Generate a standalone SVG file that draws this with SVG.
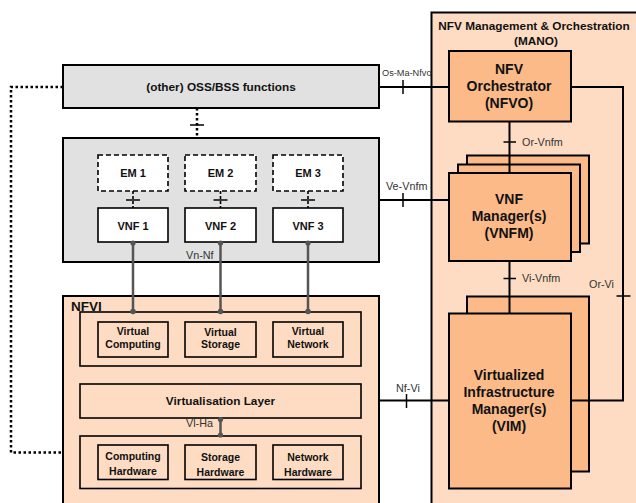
<svg xmlns="http://www.w3.org/2000/svg" width="636" height="503" viewBox="0 0 636 503">
<defs>
<style>
.bg{fill:#ffffff}
.gray{fill:#e1e1e1;stroke:#000;stroke-width:2}
.peach{fill:#fddcc3;stroke:#000;stroke-width:2}
.peach1{fill:#fddcc3;stroke:#000;stroke-width:1.6}
.orange{fill:#fbba88;stroke:#000;stroke-width:2}
.white{fill:#ffffff;stroke:#000;stroke-width:1.6}
.dashbox{fill:#ffffff;stroke:#000;stroke-width:1.6;stroke-dasharray:5 3}
.t{font-family:"Liberation Sans",Arial,sans-serif;font-weight:bold;fill:#111;text-anchor:middle}
.s11{font-size:11px}
.s105{font-size:10.5px}
.s12{font-size:11.8px}
.s14{font-size:14px}
.lbl{font-family:"Liberation Sans",Arial,sans-serif;font-size:10.8px;fill:#333}
.line{fill:none;stroke:#000;stroke-width:2}
.tick{fill:none;stroke:#000;stroke-width:1.5}
.dot{fill:none;stroke:#000;stroke-width:2.5;stroke-dasharray:2.5 2.5}
.dash{fill:none;stroke:#000;stroke-width:1.6;stroke-dasharray:3 2}
.gl{fill:none;stroke:#555;stroke-width:2.5}
.gd{fill:#555}
</style>
</defs>
<rect class="bg" x="0" y="0" width="636" height="503"/>

<g id="mano">
<rect class="peach" x="431.5" y="12.5" width="210" height="500"/>
<text class="t s12" x="534" y="29.5">NFV Management &amp; Orchestration</text>
<text class="t s12" x="536" y="45">(MANO)</text>
</g>

<g id="oss">
<rect class="gray" x="63" y="65" width="316" height="43"/>
<text class="t s12" x="221" y="91">(other) OSS/BSS functions</text>
</g>

<g id="vnf-domain">
<rect class="gray" x="63" y="138" width="316" height="124"/>
</g>

<g id="em1"><rect class="dashbox" x="98" y="155" width="70" height="36"/><text class="t s11" x="133" y="177">EM 1</text></g>
<g id="em2"><rect class="dashbox" x="185" y="155" width="71" height="36"/><text class="t s11" x="220.5" y="177">EM 2</text></g>
<g id="em3"><rect class="dashbox" x="273" y="155" width="70" height="36"/><text class="t s11" x="308" y="177">EM 3</text></g>

<g id="vnf1"><rect class="white" x="98" y="208" width="70" height="34"/><text class="t s11" x="133" y="230">VNF 1</text></g>
<g id="vnf2"><rect class="white" x="185" y="208" width="71" height="34"/><text class="t s11" x="220.5" y="230">VNF 2</text></g>
<g id="vnf3"><rect class="white" x="273" y="208" width="70" height="34"/><text class="t s11" x="308" y="230">VNF 3</text></g>

<g id="nfvi">
<rect class="peach" x="63" y="296" width="316" height="220"/>
<text class="t" x="71" y="311" style="font-size:13.5px;text-anchor:start">NFVI</text>
</g>

<g id="virtual-resources">
<rect class="peach1" x="80" y="312" width="281" height="54"/>
</g>
<g id="virtual-computing"><rect class="peach1" x="98" y="322" width="70" height="35"/><text class="t s105" x="133" y="335">Virtual</text><text class="t s105" x="133" y="347.5">Computing</text></g>
<g id="virtual-storage"><rect class="peach1" x="185" y="322" width="71" height="35"/><text class="t s105" x="220.5" y="335.5">Virtual</text><text class="t s105" x="220.5" y="348">Storage</text></g>
<g id="virtual-network"><rect class="peach1" x="273" y="322" width="70" height="35"/><text class="t s105" x="308" y="335">Virtual</text><text class="t s105" x="308" y="347.5">Network</text></g>

<g id="virtualisation-layer">
<rect class="peach1" x="80" y="384" width="281" height="34"/>
<text class="t s12" x="220.5" y="404.5">Virtualisation Layer</text>
</g>

<g id="hardware-resources">
<rect class="peach1" x="80" y="436" width="281" height="52.5"/>
</g>
<g id="computing-hardware"><rect class="peach1" x="98" y="445" width="70" height="34.5"/><text class="t s105" x="133" y="460">Computing</text><text class="t s105" x="133" y="475">Hardware</text></g>
<g id="storage-hardware"><rect class="peach1" x="185" y="445" width="71" height="34.5"/><text class="t s105" x="220.5" y="461">Storage</text><text class="t s105" x="220.5" y="475.5">Hardware</text></g>
<g id="network-hardware"><rect class="peach1" x="273" y="445" width="70" height="34.5"/><text class="t s105" x="308" y="460.5">Network</text><text class="t s105" x="308" y="475.5">Hardware</text></g>

<g id="nfvo">
<rect class="orange" x="449" y="51" width="122" height="70.5"/>
<text class="t s14" x="509" y="74">NFV</text>
<text class="t s14" x="509" y="91">Orchestrator</text>
<text class="t s14" x="509" y="108">(NFVO)</text>
</g>

<g id="vnfm">
<rect class="orange" x="467" y="155.5" width="122" height="88"/>
<rect class="orange" x="458" y="164.5" width="122" height="87.5"/>
</g>

<g id="vim">
<rect class="orange" x="467" y="296.5" width="122" height="175"/>
</g>

<g id="connectors">
<!-- dotted OSS to NFVI -->
<polyline class="dot" points="63,87 11,87 11,452.5 63,452.5"/>
<!-- dotted OSS to VNF domain -->
<line class="dot" x1="197" y1="108" x2="197" y2="138"/>
<line class="tick" x1="190" y1="125" x2="204" y2="125"/>
<!-- EM to VNF -->
<line class="dash" x1="133" y1="191" x2="133" y2="208"/>
<line class="tick" x1="126" y1="200" x2="140" y2="200"/>
<line class="dash" x1="220.5" y1="191" x2="220.5" y2="208"/>
<line class="tick" x1="213.5" y1="200" x2="227.5" y2="200"/>
<line class="dash" x1="308" y1="191" x2="308" y2="208"/>
<line class="tick" x1="301" y1="200" x2="315" y2="200"/>
<!-- Vn-Nf -->
<line class="gl" x1="133" y1="242" x2="133" y2="312"/>
<line class="gl" x1="220.5" y1="242" x2="220.5" y2="312"/>
<line class="gl" x1="308" y1="242" x2="308" y2="312"/>
<circle class="gd" cx="133" cy="243" r="2.6"/><circle class="gd" cx="133" cy="311.5" r="2.8"/>
<circle class="gd" cx="220.5" cy="243" r="2.6"/><circle class="gd" cx="220.5" cy="311.5" r="2.8"/>
<circle class="gd" cx="308" cy="243" r="2.6"/><circle class="gd" cx="308" cy="311.5" r="2.8"/>
<text class="lbl" x="186" y="259">Vn-Nf</text>
<!-- Vl-Ha -->
<line class="gl" x1="220.5" y1="419" x2="220.5" y2="435"/>
<circle class="gd" cx="220.5" cy="419.5" r="2.6"/><circle class="gd" cx="220.5" cy="435" r="2.6"/>
<text class="lbl" x="186" y="427">Vl-Ha</text>
<!-- Os-Ma-Nfvo -->
<line class="line" x1="379" y1="87" x2="449" y2="87"/>
<line class="tick" x1="403" y1="80" x2="403" y2="94"/>
<text class="lbl" x="382" y="76" style="font-size:9.2px">Os-Ma-Nfvo</text>
<!-- Ve-Vnfm -->
<line class="line" x1="379" y1="200" x2="449" y2="200"/>
<line class="tick" x1="403" y1="193" x2="403" y2="207"/>
<text class="lbl" x="386" y="190">Ve-Vnfm</text>
<!-- Nf-Vi -->
<line class="line" x1="379" y1="400.5" x2="449" y2="400.5"/>
<line class="tick" x1="406.5" y1="394" x2="406.5" y2="408"/>
<text class="lbl" x="396" y="392">Nf-Vi</text>
<!-- Or-Vnfm -->
<line class="line" x1="509.5" y1="121.5" x2="509.5" y2="173"/>
<line class="tick" x1="503.5" y1="142" x2="516" y2="142"/>
<text class="lbl" x="522" y="146">Or-Vnfm</text>
<!-- Vi-Vnfm -->
<line class="line" x1="509.5" y1="261" x2="509.5" y2="313"/>
<line class="tick" x1="503.5" y1="278.5" x2="516" y2="278.5"/>
<text class="lbl" x="522" y="282">Vi-Vnfm</text>
<!-- Or-Vi -->
<polyline class="line" points="571,87 623,87 623,400.5 571,400.5"/>
<line class="tick" x1="616.5" y1="296" x2="630.5" y2="296"/>
<text class="lbl" x="589" y="288">Or-Vi</text>
</g>

<g id="vnfm-front">
<rect class="orange" x="449" y="173" width="122" height="88"/>
<text class="t s14" x="509" y="204">VNF</text>
<text class="t s14" x="509" y="221">Manager(s)</text>
<text class="t s14" x="509" y="238">(VNFM)</text>
</g>

<g id="vim-front">
<rect class="orange" x="449" y="313.5" width="122" height="175"/>
<text class="t s14" x="509" y="380">Virtualized</text>
<text class="t s14" x="509" y="397">Infrastructure</text>
<text class="t s14" x="509" y="414">Manager(s)</text>
<text class="t s14" x="509" y="431">(VIM)</text>
</g>
</svg>
